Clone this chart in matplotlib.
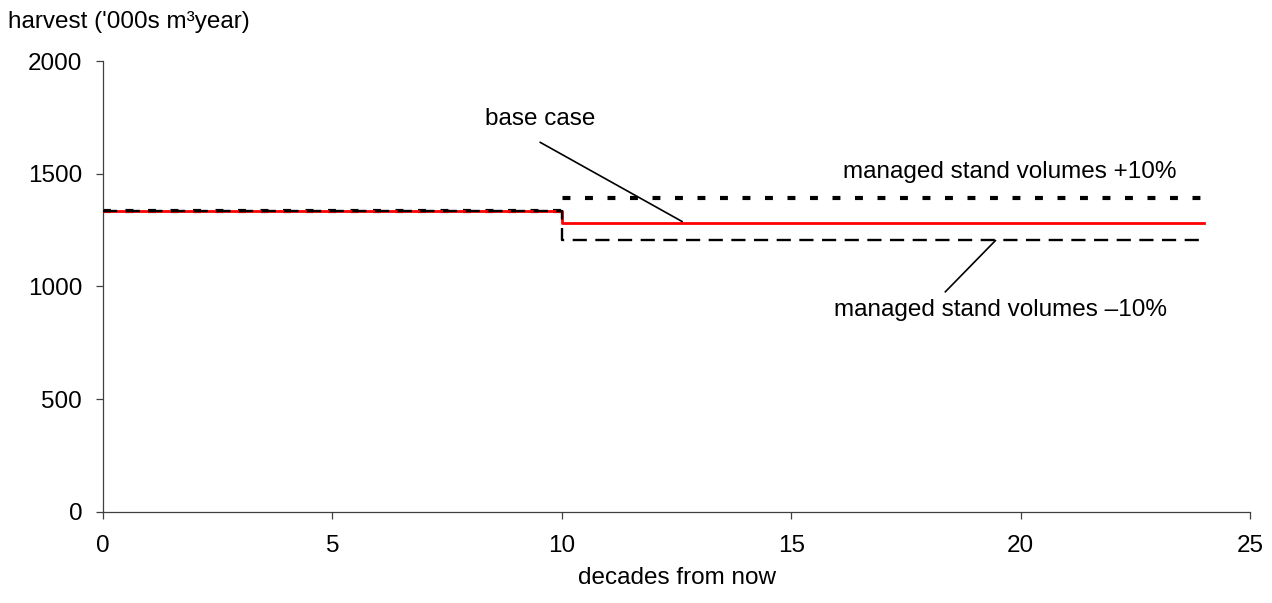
import matplotlib.pyplot as plt

plt.rcParams['font.family'] = ['Liberation Sans', 'DejaVu Sans']

# step points (decades from now) and harvest levels ('000s m3/year)
decades = [0, 10, 24]
base_case = [1335, 1280, 1280]
plus_10 = [1335, 1390, 1390]
minus_10 = [1335, 1205, 1205]

x_ticks = [0, 5, 10, 15, 20, 25]
y_ticks = [0, 500, 1000, 1500, 2000]

fs = 17.5

fig = plt.figure(figsize=(12.72, 6.03), dpi=100)
ax = fig.add_axes([0.081, 0.1514, 0.9017, 0.7474])

ax.plot(decades, plus_10, drawstyle='steps-post', color='black', lw=3.0,
        dashes=(1.9, 3.5), solid_capstyle='butt', dash_capstyle='butt', zorder=2)
ax.plot(decades, base_case, drawstyle='steps-post', color='#ff0000', lw=2.0, zorder=3)
ax.plot(decades, minus_10, drawstyle='steps-post', color='black', lw=1.7,
        dashes=(6.0, 3.6), dash_capstyle='butt', zorder=4)

# labels with leader lines
ax.text(9.53, 1742, 'base case', ha='center', va='center', fontsize=fs)
ax.plot([9.53, 12.62], [1639, 1288], color='black', lw=1.2, zorder=5)
ax.text(19.77, 1506, 'managed stand volumes +10%', ha='center', va='center', fontsize=fs)
ax.text(19.56, 897, 'managed stand volumes \u201310%', ha='center', va='center', fontsize=fs)
ax.plot([19.45, 18.36], [1203, 976], color='black', lw=1.2, zorder=5)

ax.set_xlim(0, 25)
ax.set_ylim(0, 2000)
ax.set_xticks(x_ticks)
ax.set_yticks(y_ticks)
ax.tick_params(direction='out', length=5, width=0.9, labelsize=fs, colors='#404040',
               labelcolor='black')
ax.tick_params(axis='y', pad=10)
ax.tick_params(axis='x', pad=12)
for side in ['top', 'right']:
    ax.spines[side].set_visible(False)
for side in ['left', 'bottom']:
    ax.spines[side].set_color('#404040')
    ax.spines[side].set_linewidth(0.9)

fig.text(8 / 1272, 1 - 22 / 603, "harvest ('000s m\u00b3year)", ha='left', va='center', fontsize=fs)
ax.set_xlabel('decades from now', fontsize=fs, labelpad=7)

fig.savefig('out.png', dpi=100)
